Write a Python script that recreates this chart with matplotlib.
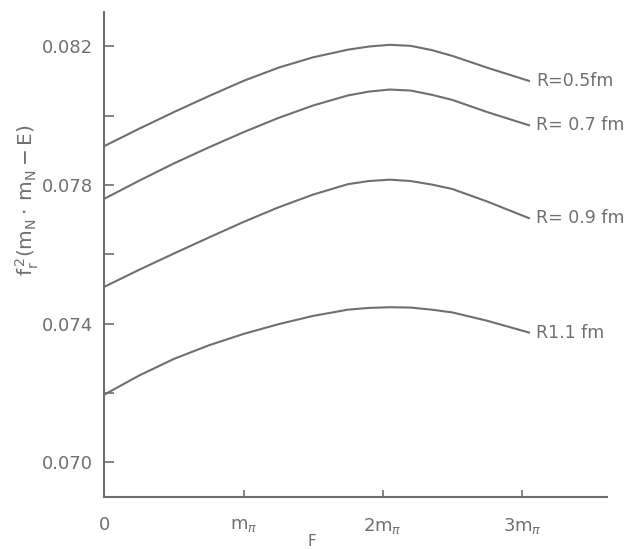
import matplotlib.pyplot as plt
from matplotlib.ticker import MultipleLocator

plt.rcParams['mathtext.fontset'] = 'dejavusans'

# F in units of m_pi
F = [0, 0.25, 0.5, 0.75, 1.0, 1.25, 1.5, 1.75, 1.9, 2.05, 2.2, 2.35, 2.5, 2.75, 3.05]

r05 = [0.07912, 0.07962, 0.08010, 0.08056, 0.08100, 0.08138, 0.08168,
       0.08190, 0.08199, 0.08204, 0.08201, 0.08189, 0.08172, 0.08138, 0.08100]
r07 = [0.07760, 0.07812, 0.07862, 0.07908, 0.07952, 0.07993, 0.08029,
       0.08058, 0.08069, 0.08075, 0.08072, 0.08060, 0.08045, 0.08010, 0.07972]
r09 = [0.07506, 0.07555, 0.07602, 0.07648, 0.07693, 0.07735, 0.07772,
       0.07802, 0.07811, 0.07815, 0.07811, 0.07801, 0.07788, 0.07752, 0.07704]
r11 = [0.07195, 0.07250, 0.07298, 0.07337, 0.07370, 0.07398, 0.07422,
       0.07440, 0.07445, 0.07447, 0.07446, 0.07440, 0.07432, 0.07408, 0.07374]

curves = [r05, r07, r09, r11]
labels = ['R=0.5fm', 'R= 0.7 fm', 'R= 0.9 fm', 'R1.1 fm']

xticks = [0, 1, 2, 3]
xticklabels = ['0', r'$\mathrm{m}_{\pi}$', r'$\mathrm{2m}_{\pi}$', r'$\mathrm{3m}_{\pi}$']
yticks = [0.070, 0.074, 0.078, 0.082]

grey = '#6f6f6f'

fig = plt.figure(figsize=(6.25, 5.49), dpi=100)
ax = fig.add_axes([0.167, 0.095, 0.804, 0.884])

for y, lab in zip(curves, labels):
    ax.plot(F, y, color=grey, lw=1.5)
    ax.text(F[-1] + 0.05, y[-1], lab, color=grey, fontsize=12.5,
            ha='left', va='center')

ax.set_xlim(0, 3.61)
ax.set_ylim(0.069, 0.0830)

ax.set_xticks(xticks)
ax.set_xticklabels(xticklabels)
ax.set_yticks(yticks)
ax.set_yticklabels(['0.070', '0.074', '0.078', '0.082'])
ax.yaxis.set_minor_locator(MultipleLocator(0.002))

ax.tick_params(axis='y', which='both', direction='in', length=7, width=1.2,
               color=grey, labelcolor=grey, labelsize=13, pad=8)
ax.tick_params(axis='x', which='both', direction='in', length=5, width=1.2,
               color=grey, labelcolor=grey, labelsize=13, pad=14)

for s in ['top', 'right']:
    ax.spines[s].set_visible(False)
for s in ['left', 'bottom']:
    ax.spines[s].set_color(grey)
    ax.spines[s].set_linewidth(1.5)

fig.text(312 / 625, 1 - 542 / 549, 'F', color=grey, fontsize=11,
         ha='center', va='center')
fig.text(27 / 625, 1 - 200 / 549,
         r'$\mathrm{f_r^{\,2}(m_N\cdot\,m_N - E)}$',
         color=grey, fontsize=14.5, rotation=90, ha='center', va='center')

plt.savefig('out.png', dpi=100)
